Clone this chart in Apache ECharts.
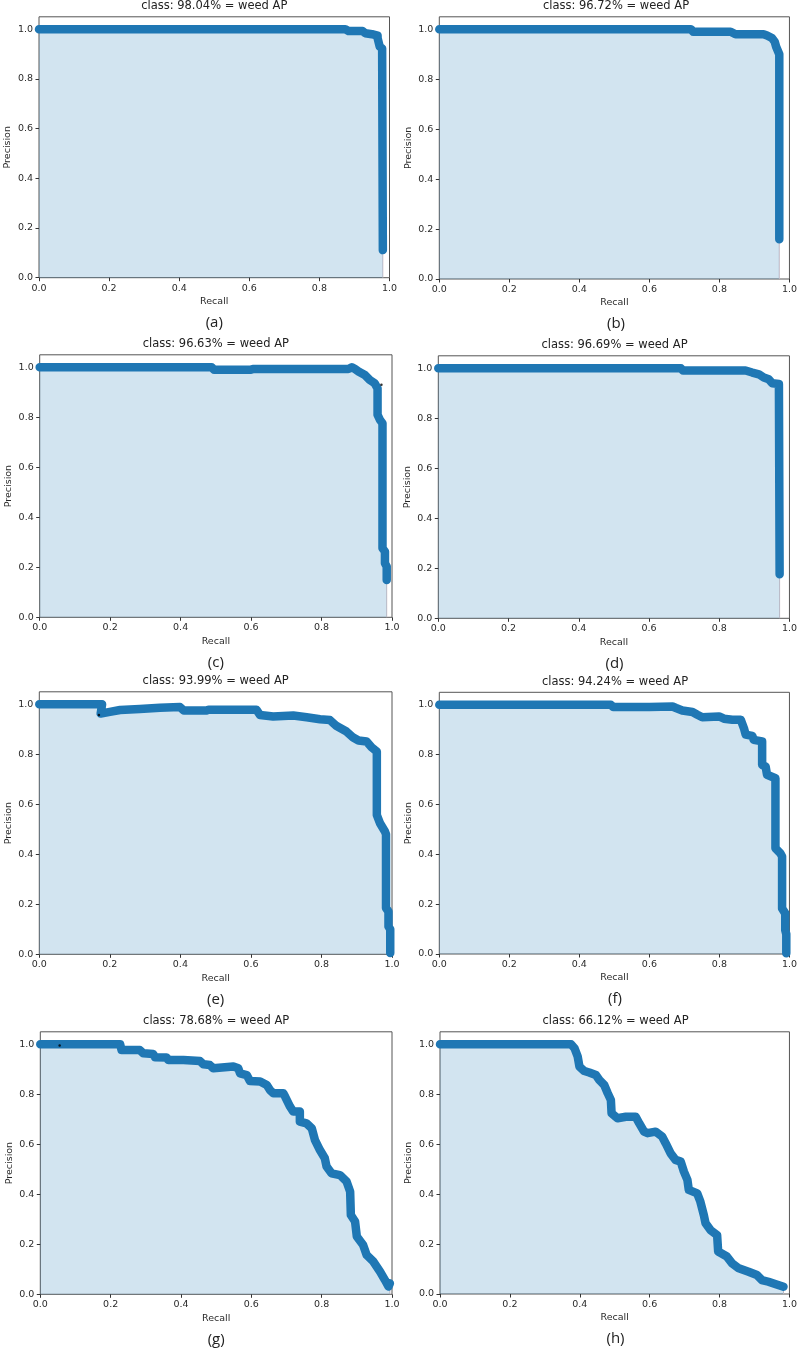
<!DOCTYPE html>
<html>
<head>
<meta charset="utf-8">
<script src="https://cdn.jsdelivr.net/npm/echarts@6/dist/echarts.min.js"></script>
<style>
html,body{margin:0;padding:0;background:#fff;}
#chart{width:800px;height:1349px;}
</style>
</head>
<body>
<div id="chart"></div>
<script>
// ---------- data ----------
const titles = ['class: 98.04% = weed AP','class: 96.72% = weed AP','class: 96.63% = weed AP','class: 96.69% = weed AP',
                'class: 93.99% = weed AP','class: 94.24% = weed AP','class: 78.68% = weed AP','class: 66.12% = weed AP'];
const captions = ['(a)','(b)','(c)','(d)','(e)','(f)','(g)','(h)'];
const tickValues = [0, 0.2, 0.4, 0.6, 0.8, 1.0];
const tickLabels = ['0.0','0.2','0.4','0.6','0.8','1.0'];

const aRecall    = [0, 0.874, 0.883, 0.923, 0.931, 0.95, 0.966, 0.966, 0.972, 0.979, 0.981, 0.981];
const aPrecision = [1.0, 1.0, 0.993, 0.993, 0.984, 0.98, 0.974, 0.965, 0.93, 0.923, 0.92, 0.111];

const bRecall    = [0, 0.719, 0.725, 0.832, 0.846, 0.926, 0.936, 0.95, 0.958, 0.962, 0.968, 0.971, 0.971];
const bPrecision = [1.0, 1.0, 0.99, 0.99, 0.98, 0.98, 0.975, 0.965, 0.95, 0.93, 0.91, 0.9, 0.159];

const cRecall    = [0, 0.488, 0.495, 0.597, 0.605, 0.876, 0.886, 0.895, 0.905, 0.923, 0.937, 0.951, 0.959, 0.959, 0.966, 0.973, 0.973, 0.98, 0.98, 0.985, 0.985];
const cPrecision = [1.0, 1.0, 0.99, 0.99, 0.993, 0.993, 1.0, 0.993, 0.983, 0.969, 0.949, 0.936, 0.916, 0.81, 0.789, 0.776, 0.276, 0.263, 0.216, 0.203, 0.149];

const dRecall    = [0, 0.691, 0.697, 0.875, 0.894, 0.913, 0.927, 0.941, 0.951, 0.97, 0.972, 0.972];
const dPrecision = [1.0, 1.0, 0.991, 0.991, 0.983, 0.976, 0.963, 0.956, 0.94, 0.937, 0.93, 0.176];

const eRecall    = [0, 0.178, 0.174, 0.2, 0.229, 0.285, 0.342, 0.399, 0.41, 0.474, 0.48, 0.616, 0.626, 0.663, 0.72, 0.758, 0.796, 0.824, 0.843, 0.871, 0.89, 0.905, 0.928, 0.942, 0.957, 0.957, 0.966, 0.98, 0.983, 0.983, 0.99, 0.99, 0.995, 0.995];
const ePrecision = [1.0, 1.0, 0.963, 0.97, 0.977, 0.981, 0.986, 0.989, 0.975, 0.975, 0.978, 0.978, 0.957, 0.951, 0.955, 0.948, 0.94, 0.937, 0.913, 0.891, 0.867, 0.855, 0.851, 0.828, 0.811, 0.557, 0.524, 0.491, 0.48, 0.185, 0.171, 0.111, 0.1, 0.005];

const fRecall    = [0, 0.49, 0.497, 0.6, 0.605, 0.666, 0.676, 0.694, 0.723, 0.737, 0.751, 0.799, 0.813, 0.837, 0.861, 0.87, 0.875, 0.894, 0.898, 0.922, 0.922, 0.932, 0.936, 0.96, 0.96, 0.974, 0.979, 0.979, 0.988, 0.988, 0.991, 0.991];
const fPrecision = [1.0, 1.0, 0.991, 0.991, 0.993, 0.993, 0.987, 0.977, 0.971, 0.96, 0.95, 0.953, 0.944, 0.94, 0.94, 0.906, 0.88, 0.875, 0.859, 0.853, 0.759, 0.752, 0.719, 0.705, 0.424, 0.404, 0.391, 0.183, 0.163, 0.096, 0.08, 0.003];

const gRecall    = [0, 0.227, 0.231, 0.283, 0.293, 0.321, 0.326, 0.359, 0.364, 0.407, 0.411, 0.454, 0.464, 0.482, 0.492, 0.549, 0.563, 0.568, 0.587, 0.596, 0.625, 0.644, 0.653, 0.663, 0.691, 0.696, 0.71, 0.719, 0.738, 0.738, 0.757, 0.772, 0.781, 0.795, 0.809, 0.814, 0.828, 0.852, 0.871, 0.881, 0.883, 0.895, 0.9, 0.918, 0.928, 0.947, 0.966, 0.98, 0.99, 0.994];
const gPrecision = [1.0, 1.0, 0.977, 0.977, 0.964, 0.961, 0.948, 0.947, 0.937, 0.937, 0.931, 0.933, 0.92, 0.917, 0.904, 0.911, 0.904, 0.884, 0.877, 0.853, 0.851, 0.837, 0.817, 0.804, 0.804, 0.791, 0.751, 0.731, 0.731, 0.691, 0.684, 0.664, 0.617, 0.577, 0.544, 0.511, 0.484, 0.477, 0.451, 0.411, 0.317, 0.291, 0.231, 0.197, 0.157, 0.131, 0.091, 0.057, 0.031, 0.044];

const hRecall    = [0, 0.375, 0.385, 0.394, 0.399, 0.413, 0.427, 0.446, 0.456, 0.47, 0.48, 0.489, 0.491, 0.508, 0.532, 0.56, 0.57, 0.584, 0.594, 0.617, 0.636, 0.646, 0.66, 0.674, 0.689, 0.698, 0.708, 0.712, 0.736, 0.745, 0.755, 0.76, 0.774, 0.793, 0.796, 0.821, 0.836, 0.855, 0.883, 0.907, 0.921, 0.94, 0.959, 0.983];
const hPrecision = [1.0, 1.0, 0.984, 0.951, 0.911, 0.893, 0.887, 0.877, 0.857, 0.837, 0.804, 0.777, 0.724, 0.704, 0.71, 0.71, 0.684, 0.65, 0.644, 0.65, 0.63, 0.603, 0.563, 0.537, 0.53, 0.49, 0.457, 0.417, 0.403, 0.37, 0.316, 0.283, 0.256, 0.236, 0.17, 0.15, 0.123, 0.103, 0.089, 0.076, 0.056, 0.049, 0.04, 0.029];

// small black stray marks visible in a few panels
const cSpeck = [[0.97, 0.93]];
const eSpeck = [[0.169, 0.957]];
const gSpeck = [[0.055, 0.995]];

const panels = [
  {r: aRecall, p: aPrecision, s: []},
  {r: bRecall, p: bPrecision, s: []},
  {r: cRecall, p: cPrecision, s: cSpeck},
  {r: dRecall, p: dPrecision, s: []},
  {r: eRecall, p: ePrecision, s: eSpeck},
  {r: fRecall, p: fPrecision, s: []},
  {r: gRecall, p: gPrecision, s: gSpeck},
  {r: hRecall, p: hPrecision, s: []}
];

// ---------- layout ----------
const rects = [
  {left: 39.0,  top: 16.8,   width: 350.5, height: 260.9},
  {left: 439.3, top: 16.8,   width: 353.4, height: 262.2},
  {left: 39.7,  top: 354.8,  width: 352.3, height: 262.5},
  {left: 438.3, top: 355.8,  width: 352.4, height: 262.5},
  {left: 39.3,  top: 691.8,  width: 352.7, height: 262.5},
  {left: 439.3, top: 692.3,  width: 351.4, height: 261.7},
  {left: 40.3,  top: 1031.8, width: 351.7, height: 262.5},
  {left: 440.0, top: 1031.8, width: 351.0, height: 262.2}
];

const FONT = 'DejaVu Sans';
const grids = [], xAxes = [], yAxes = [], series = [], graphics = [];

panels.forEach((pn, i) => {
  const rc = rects[i];
  grids.push({left: rc.left, top: rc.top, width: rc.width, height: rc.height,
    show: true, borderColor: '#555', borderWidth: 1, backgroundColor: '#fff', containLabel: false});
  const common = {
    gridIndex: i, type: 'value', splitLine: {show: false},
    axisLine: {show: false},
    axisTick: {show: true, inside: false, length: 3.5, lineStyle: {color: '#333', width: 1}, customValues: tickValues},
    axisLabel: {show: true, fontFamily: FONT, fontSize: 9.5, color: '#2a2a2a', customValues: tickValues,
      formatter: v => tickLabels[tickValues.findIndex(t => Math.abs(t - v) < 1e-9)] || ''},
    nameLocation: 'middle',
    nameTextStyle: {fontFamily: FONT, fontSize: 9.5, color: '#2a2a2a'}
  };
  xAxes.push(Object.assign({}, common, {min: 0, max: 1.0, name: 'Recall', nameGap: 19,
    axisLabel: Object.assign({}, common.axisLabel, {margin: 5.5})}));
  yAxes.push(Object.assign({}, common, {min: 0, max: 1.05, name: 'Precision', nameGap: 26,
    axisLabel: Object.assign({}, common.axisLabel, {margin: 6})}));

  const pts = pn.r.map((x, k) => [x, pn.p[k]]);
  series.push({
    type: 'line', xAxisIndex: i, yAxisIndex: i, data: pts,
    showSymbol: false, symbol: 'none', smooth: false, clip: true,
    lineStyle: {color: '#1f77b4', width: 8.5, cap: 'round', join: 'round'},
    areaStyle: {color: 'rgba(31,119,180,0.2)', opacity: 1},
    z: 3, silent: true
  });
  const last = pts[pts.length - 1];
  series.push({
    type: 'line', xAxisIndex: i, yAxisIndex: i, data: [[last[0], last[1]], [last[0], 0]],
    showSymbol: false, symbol: 'none', lineStyle: {color: '#cdbfc6', width: 1}, z: 2, silent: true
  });
  if (pn.s.length) {
    series.push({
      type: 'scatter', xAxisIndex: i, yAxisIndex: i, data: pn.s,
      symbol: 'circle', symbolSize: 2.5, itemStyle: {color: '#000'}, z: 4, silent: true
    });
  }
  const cx = rc.left + rc.width / 2;
  graphics.push({type: 'text', x: cx, y: rc.top - 10.5, silent: true,
    style: {text: titles[i], font: '11.5px "DejaVu Sans"', fill: '#222', align: 'center', verticalAlign: 'middle'}});
  graphics.push({type: 'text', x: cx, y: rc.top + rc.height + 45, silent: true,
    style: {text: captions[i], font: '15px "Open Sans"', fill: '#222', align: 'center', verticalAlign: 'middle'}});
});

const chart = echarts.init(document.getElementById('chart'));
chart.setOption({
  animation: false,
  backgroundColor: '#fff',
  grid: grids, xAxis: xAxes, yAxis: yAxes, series: series,
  graphic: graphics
});
</script>
</body>
</html>
